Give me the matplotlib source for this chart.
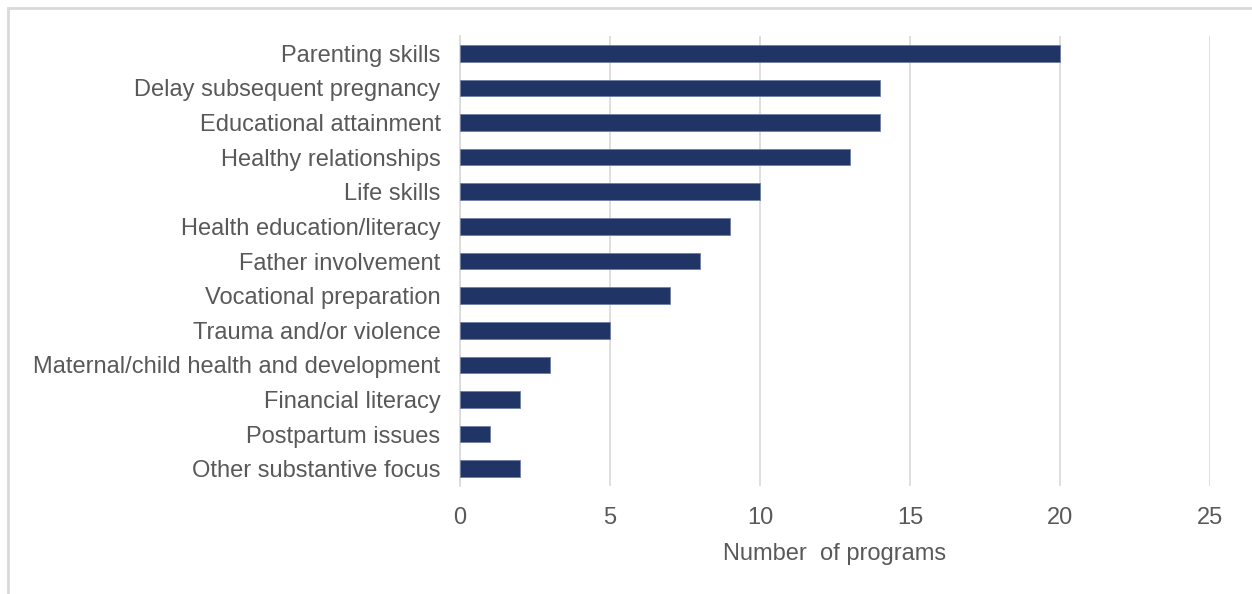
import matplotlib.pyplot as plt
from matplotlib.patches import Rectangle

plt.rcParams['font.family'] = ['Liberation Sans', 'DejaVu Sans']

# Focus areas and program counts
focus_areas = [
    'Parenting skills',
    'Delay subsequent pregnancy',
    'Educational attainment',
    'Healthy relationships',
    'Life skills',
    'Health education/literacy',
    'Father involvement',
    'Vocational preparation',
    'Trauma and/or violence',
    'Maternal/child health and development',
    'Financial literacy',
    'Postpartum issues',
    'Other substantive focus',
]
program_counts = [20, 14, 14, 13, 10, 9, 8, 7, 5, 3, 2, 1, 2]
x_ticks = [0, 5, 10, 15, 20, 25]

text_color = '#595959'
grid_color = '#d9d9d9'
bar_color = '#203466'

fig = plt.figure(figsize=(12.52, 5.94), dpi=100)
ax = fig.add_axes([460 / 1252, 1 - 486 / 594, 750 / 1252, 450 / 594])

ypos = list(range(len(focus_areas)))
ax.barh(ypos, program_counts, height=0.48, color=bar_color,
        edgecolor='#6f7fa3', linewidth=0.6, zorder=3)

ax.set_ylim(len(focus_areas) - 0.5, -0.5)
ax.set_yticks(ypos)
ax.set_yticklabels(focus_areas, fontsize=17, color=text_color)
ax.set_xlim(0, 25)
ax.set_xticks(x_ticks)
ax.set_xticklabels([str(t) for t in x_ticks], fontsize=17, color=text_color)
ax.tick_params(axis='both', length=0)
ax.tick_params(axis='y', pad=14)
ax.tick_params(axis='x', pad=15)

ax.grid(axis='x', color=grid_color, linewidth=1.2, zorder=0)
for side in ['top', 'right', 'bottom']:
    ax.spines[side].set_visible(False)
ax.spines['left'].set_color(grid_color)
ax.spines['left'].set_linewidth(1.2)

ax.set_xlabel('Number  of programs', fontsize=17, color=text_color, labelpad=10)

# Light frame around the chart area
fig.patches.append(Rectangle((8 / 1252, -0.05), 1.1, 1 - 8 / 594 + 0.05,
                             transform=fig.transFigure, fill=False,
                             edgecolor=grid_color, linewidth=2))

fig.savefig('out.png', dpi=100, facecolor='white')
plt.close(fig)
